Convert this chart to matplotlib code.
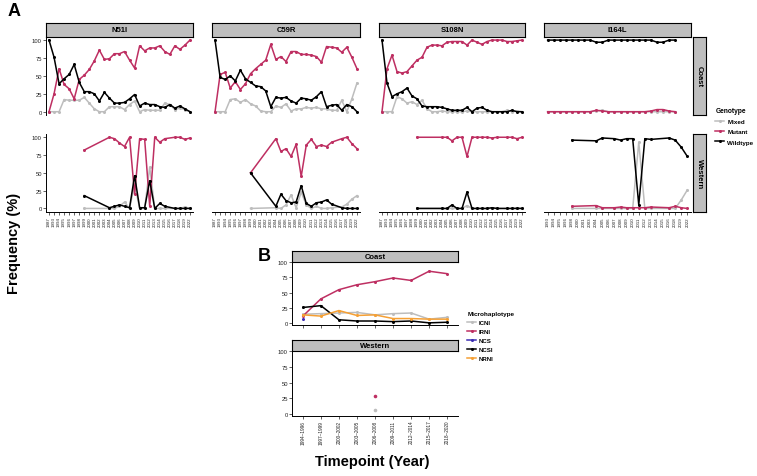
import matplotlib
matplotlib.use('Agg')
import matplotlib.pyplot as plt
from matplotlib.lines import Line2D

plt.rcParams['font.family'] = ['Liberation Sans', 'DejaVu Sans']

W, H = 757, 477

# ---------------- panel A data ----------------
GENES = ['N51I', 'C59R', 'S108N', 'I164L']
REGIONS = ['Coast', 'Western']
GENOTYPES = ['Mixed', 'Mutant', 'Wildtype']

# year categories on the x axis (free x per column)
YEARS_A = [1987, 1993, 1994, 1995, 1996, 1997, 1998, 1999, 2000, 2001, 2002,
           2003, 2004, 2005, 2006, 2007, 2008, 2009, 2010, 2011, 2012, 2013,
           2014, 2015, 2016, 2017, 2018, 2019, 2022]
YEARS_I164L = [1993, 1994, 1995, 1996, 1998, 2000, 2001, 2003, 2004, 2005,
               2006, 2007, 2008, 2009, 2010, 2011, 2012, 2013, 2014, 2015,
               2016, 2018, 2019, 2022]

COAST_YEARS_A = YEARS_A
WEST_YEARS_A = [1999, 2004, 2005, 2006, 2007, 2008, 2009, 2010, 2011, 2012,
                2013, 2014, 2015, 2017, 2018, 2019, 2022]
COAST_YEARS_I164L = YEARS_I164L[:22]
WEST_YEARS_I164L = [1998, 2004, 2005, 2007, 2008, 2009, 2010, 2011, 2012,
                    2013, 2016, 2018, 2019, 2022]

# Coast
N51I_COAST_MIX = [0, 0, 0, 17, 16, 16, 16, 20, 12, 4, 0, 0, 7, 7, 7, 3, 10, 15, 0, 3, 2, 2, 2, 12, 10, 3, 5, 3, 0]
N51I_COAST_MUT = [0, 25, 60, 38, 32, 18, 45, 51, 59, 71, 86, 73, 74, 81, 81, 84, 72, 61, 92, 85, 89, 89, 92, 84, 80, 92, 87, 93, 100]
N51I_COAST_WT = [100, 76, 39, 46, 52, 66, 41, 28, 28, 25, 15, 27, 19, 12, 12, 13, 18, 24, 8, 12, 10, 10, 7, 6, 10, 5, 8, 4, 0]

C59R_COAST_MIX = [0, 0, 0, 17, 18, 13, 17, 11, 8, 1, 0, 0, 8, 6, 11, 1, 4, 4, 6, 5, 6, 4, 4, 2, 2, 16, 0, 18, 40]
C59R_COAST_MUT = [0, 52, 55, 33, 42, 31, 39, 53, 60, 66, 72, 94, 73, 77, 70, 84, 84, 80, 80, 79, 77, 69, 91, 90, 89, 83, 90, 76, 60]
C59R_COAST_WT = [100, 48, 45, 50, 43, 58, 46, 41, 36, 35, 29, 7, 20, 19, 20, 15, 12, 19, 18, 16, 21, 28, 7, 9, 10, 2, 10, 7, 0]

S108N_COAST_MIX = [0, 0, 0, 21, 18, 12, 14, 10, 16, 4, 0, 0, 1, 0, 0, 0, 0, 1, 0, 0, 0, 0, 0, 0, 0, 2, 0, 1, 0]
S108N_COAST_MUT = [0, 60, 79, 56, 54, 56, 64, 72, 76, 90, 93, 93, 92, 97, 98, 98, 98, 93, 100, 97, 94, 98, 100, 100, 100, 98, 98, 99, 100]
S108N_COAST_WT = [100, 40, 21, 25, 28, 33, 22, 18, 8, 7, 7, 7, 6, 4, 2, 2, 2, 6, 0, 5, 6, 2, 0, 0, 0, 0, 2, 0, 0]

I164L_COAST_MIX = [0, 0, 0, 0, 0, 0, 0, 0, 1, 2, 0, 0, 0, 0, 0, 0, 0, 0, 0, 0, 0, 0]
I164L_COAST_MUT = [0, 0, 0, 0, 0, 0, 0, 0, 2, 1, 0, 0, 0, 0, 0, 0, 0, 1, 3, 3, 1, 0]
I164L_COAST_WT = [100, 100, 100, 100, 100, 100, 100, 100, 97, 97, 100, 100, 100, 100, 100, 100, 100, 100, 97, 97, 100, 100]

# Western
N51I_WEST_MIX = [0, 0, 0, 3, 9, 0, 34, 0, 0, 58, 0, 0, 0, 0, 0, 2, 0]
N51I_WEST_MUT = [82, 100, 98, 92, 87, 100, 20, 98, 97, 3, 100, 93, 98, 100, 100, 97, 99]
N51I_WEST_WT = [18, 1, 3, 5, 3, 1, 46, 1, 1, 39, 0, 7, 3, 0, 0, 0, 0]

C59R_WEST_MIX = [0, 1, 0, 5, 19, 1, 23, 5, 0, 3, 0, 0, 1, 2, 6, 13, 18]
C59R_WEST_MUT = [50, 98, 80, 84, 73, 90, 45, 89, 97, 87, 89, 87, 93, 98, 100, 91, 84]
C59R_WEST_WT = [50, 3, 20, 11, 8, 9, 32, 7, 3, 8, 9, 12, 6, 1, 0, 0, 0]

S108N_WEST_MIX = [0, 0, 0, 0, 0, 0, 4, 0, 0, 0, 0, 0, 0, 0, 0, 1, 0]
S108N_WEST_MUT = [100, 100, 100, 95, 100, 100, 73, 100, 100, 100, 100, 99, 100, 100, 100, 98, 100]
S108N_WEST_WT = [0, 0, 0, 5, 0, 0, 23, 0, 0, 0, 0, 1, 0, 0, 0, 0, 0]

I164L_WEST_MIX = [0, 0, 0, 0, 0, 0, 0, 93, 0, 0, 0, 0, 12, 26]
I164L_WEST_MUT = [3, 4, 1, 1, 2, 1, 1, 1, 1, 2, 1, 3, 1, 0]
I164L_WEST_WT = [96, 95, 99, 98, 96, 98, 98, 5, 98, 97, 99, 96, 86, 73]

# ---------------- panel B data ----------------
PERIODS = ['1994\u20131996', '1997\u20131999', '2000\u20132002', '2003\u20132005',
           '2006\u20132008', '2009\u20132011', '2012\u20132014', '2015\u20132017',
           '2018\u20132020']
MICROHAPS = ['ICNI', 'IRNI', 'NCS', 'NCSI', 'NRNI']

COAST_ICNI = [15, 16, 17, 18, 14, 16, 17, 7, 10]
COAST_IRNI = [12, 40, 55, 63, 68, 74, 70, 85, 81]
COAST_NCS = [7]
COAST_NCS_PERIODS = ['1994\u20131996']
COAST_NCSI = [26, 29, 6, 4, 4, 3, 4, 1, 2]
COAST_NRNI = [14, 12, 21, 13, 14, 8, 8, 7, 7]

WEST_PERIODS = ['2006\u20132008']
WEST_ICNI = [7]
WEST_IRNI = [29]

GENO_COLORS = {'Mixed': '#BDBDBD', 'Mutant': '#BE2F62', 'Wildtype': '#000000'}
HAP_COLORS = {'ICNI': '#BDBDBD', 'IRNI': '#BE2F62', 'NCS': '#3B2DB3',
              'NCSI': '#000000', 'NRNI': '#F5A035'}

data_a = {
    ('N51I', 'Coast'): (COAST_YEARS_A, [N51I_COAST_MIX, N51I_COAST_MUT, N51I_COAST_WT]),
    ('C59R', 'Coast'): (COAST_YEARS_A, [C59R_COAST_MIX, C59R_COAST_MUT, C59R_COAST_WT]),
    ('S108N', 'Coast'): (COAST_YEARS_A, [S108N_COAST_MIX, S108N_COAST_MUT, S108N_COAST_WT]),
    ('I164L', 'Coast'): (COAST_YEARS_I164L, [I164L_COAST_MIX, I164L_COAST_MUT, I164L_COAST_WT]),
    ('N51I', 'Western'): (WEST_YEARS_A, [N51I_WEST_MIX, N51I_WEST_MUT, N51I_WEST_WT]),
    ('C59R', 'Western'): (WEST_YEARS_A, [C59R_WEST_MIX, C59R_WEST_MUT, C59R_WEST_WT]),
    ('S108N', 'Western'): (WEST_YEARS_A, [S108N_WEST_MIX, S108N_WEST_MUT, S108N_WEST_WT]),
    ('I164L', 'Western'): (WEST_YEARS_I164L, [I164L_WEST_MIX, I164L_WEST_MUT, I164L_WEST_WT]),
}
cats_a = {'N51I': YEARS_A, 'C59R': YEARS_A, 'S108N': YEARS_A, 'I164L': YEARS_I164L}


def rect(x0, y0, x1, y1):
    # pixel box -> figure fraction
    return [x0 / W, 1 - y1 / H, (x1 - x0) / W, (y1 - y0) / H]


def strip(fig, box, text, rot=0):
    s = fig.add_axes(rect(*box))
    s.set_facecolor('#BEBEBE')
    s.set_xticks([])
    s.set_yticks([])
    for sp in s.spines.values():
        sp.set_linewidth(0.8)
    s.text(0.5, 0.5, text, ha='center', va='center', rotation=rot,
           fontsize=5.5, fontweight='bold', transform=s.transAxes)


def style(ax, left, bottom):
    ax.spines['top'].set_visible(False)
    ax.spines['right'].set_visible(False)
    ax.spines['left'].set_visible(left)
    ax.spines['bottom'].set_visible(bottom)
    for sp in ax.spines.values():
        sp.set_linewidth(0.7)
    ax.tick_params(length=2, width=0.5, pad=1, colors='#222222')
    ax.tick_params(left=left, labelleft=left, bottom=bottom, labelbottom=bottom)
    ax.set_facecolor('none')


fig = plt.figure(figsize=(W / 100, H / 100), dpi=100)

col_x = [(46, 193), (212, 360), (379, 525), (544, 691)]
row_y = {'Coast': (37.5, 116.3), 'Western': (134.7, 213)}

for ci, gene in enumerate(GENES):
    x0, x1 = col_x[ci]
    strip(fig, (x0, 24, x1, 37.5), gene)
    cats = cats_a[gene]
    for region in REGIONS:
        y0, y1 = row_y[region]
        ax = fig.add_axes(rect(x0, y0, x1, y1))
        years, series = data_a[(gene, region)]
        xs = [cats.index(y) for y in years]
        for geno, vals in zip(GENOTYPES, series):
            ax.plot(xs, vals, '-o', color=GENO_COLORS[geno], lw=1.1, ms=2.2,
                    mew=0, clip_on=False)
        ax.set_xlim(-0.6, len(cats) - 0.4)
        ax.set_ylim(-5, 105)
        ax.set_yticks([0, 25, 50, 75, 100])
        ax.tick_params(axis='y', labelsize=4.2)
        ax.set_xticks(range(len(cats)))
        ax.set_xticklabels([str(c) for c in cats], rotation=90, fontsize=3.2)
        style(ax, ci == 0, region == 'Western')

for region in REGIONS:
    y0, y1 = row_y[region]
    strip(fig, (692.5, y0, 706, y1), region, rot=-90)

handles = [Line2D([], [], color=GENO_COLORS[g], marker='o', lw=1.1, ms=2.2, mew=0)
           for g in GENOTYPES]
leg = fig.legend(handles, GENOTYPES, title='Genotype', loc='upper left',
                 bbox_to_anchor=(711 / W, 1 - 104 / H), frameon=False,
                 prop={'size': 4.5, 'weight': 'bold'}, handlelength=1.4,
                 labelspacing=0.75, handletextpad=0.5, borderpad=0.2,
                 title_fontproperties={'size': 4.8, 'weight': 'bold'})
leg._legend_box.align = 'left'

# ---------------- panel B ----------------
bx0, bx1 = 292, 458
strip(fig, (bx0, 252, bx1, 263), 'Coast')
axc = fig.add_axes(rect(bx0, 263, bx1, 326))
series_b = {'ICNI': (PERIODS, COAST_ICNI), 'IRNI': (PERIODS, COAST_IRNI),
            'NCS': (COAST_NCS_PERIODS, COAST_NCS), 'NCSI': (PERIODS, COAST_NCSI),
            'NRNI': (PERIODS, COAST_NRNI)}
for hap in MICROHAPS:
    per, vals = series_b[hap]
    xs = [PERIODS.index(p) for p in per]
    axc.plot(xs, vals, '-o', color=HAP_COLORS[hap], lw=1.1, ms=2.2, mew=0)

strip(fig, (bx0, 341, bx1, 352.3), 'Western')
axw = fig.add_axes(rect(bx0, 352.3, bx1, 416.5))
xs = [PERIODS.index(p) for p in WEST_PERIODS]
axw.plot(xs, WEST_ICNI, 'o', color=HAP_COLORS['ICNI'], ms=2.6, mew=0)
axw.plot(xs, WEST_IRNI, 'o', color=HAP_COLORS['IRNI'], ms=2.6, mew=0)

for ax, bottom_labels in ((axc, False), (axw, True)):
    ax.set_xlim(-0.6, len(PERIODS) - 0.4)
    ax.set_ylim(-2.5, 100)
    ax.set_yticks([0, 25, 50, 75, 100])
    ax.tick_params(axis='y', labelsize=4.2)
    ax.set_xticks(range(len(PERIODS)))
    ax.set_xticklabels(PERIODS, rotation=90, fontsize=3.4)
    style(ax, True, True)
    ax.tick_params(labelbottom=bottom_labels)

handles = [Line2D([], [], color=HAP_COLORS[h], marker='o', lw=1.1, ms=2.2, mew=0)
           for h in MICROHAPS]
leg2 = fig.legend(handles, MICROHAPS, title='Microhaplotype', loc='upper left',
                  bbox_to_anchor=(463 / W, 1 - 308 / H), frameon=False,
                  prop={'size': 4.4, 'weight': 'bold'}, handlelength=1.4,
                  labelspacing=0.6, handletextpad=0.5, borderpad=0.2,
                  title_fontproperties={'size': 4.6, 'weight': 'bold'})
leg2._legend_box.align = 'left'

# labels
fig.text(8 / W, 1 - 12 / H, 'A', fontsize=13, fontweight='bold', va='center')
fig.text(258 / W, 1 - 257 / H, 'B', fontsize=13, fontweight='bold', va='center')
fig.text(14 / W, 1 - 243 / H, 'Frequency (%)', rotation=90, ha='center',
         va='center', fontsize=10.5, fontweight='bold')
fig.text(372 / W, 1 - 462 / H, 'Timepoint (Year)', ha='center', va='center',
         fontsize=10.5, fontweight='bold')

fig.savefig('out.png', dpi=100)
